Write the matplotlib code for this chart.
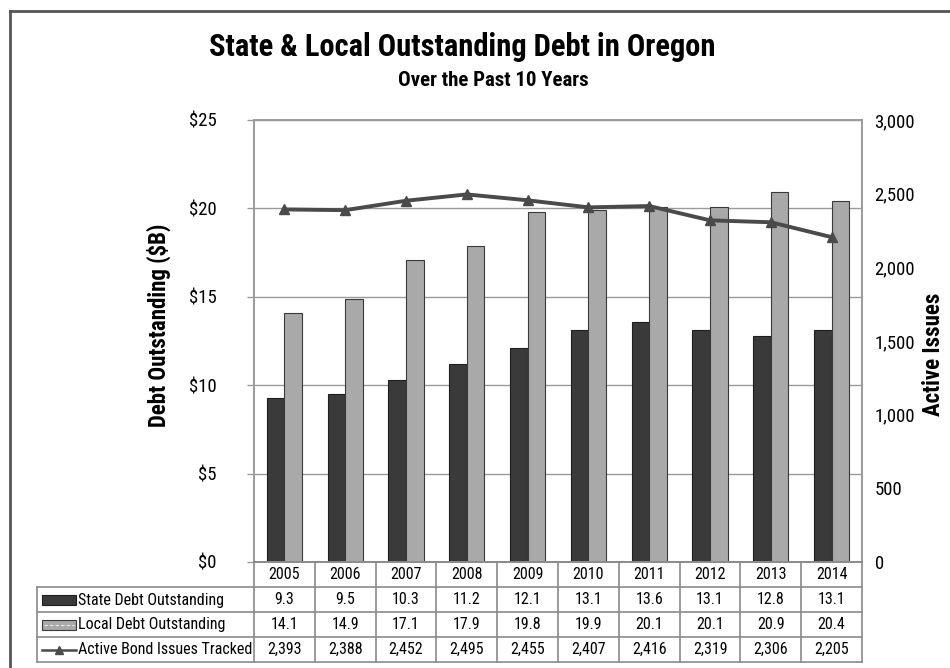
import matplotlib
matplotlib.use("Agg")
import matplotlib.pyplot as plt
import matplotlib.transforms as mtransforms
from matplotlib.lines import Line2D
from matplotlib.patches import Rectangle
import numpy as np

plt.rcParams['font.family'] = ['Roboto Condensed', 'Liberation Sans Narrow', 'Liberation Sans', 'DejaVu Sans']
plt.rcParams['font.stretch'] = 'condensed'

years = ["2005", "2006", "2007", "2008", "2009", "2010", "2011", "2012", "2013", "2014"]
state_debt = [9.3, 9.5, 10.3, 11.2, 12.1, 13.1, 13.6, 13.1, 12.8, 13.1]
local_debt = [14.1, 14.9, 17.1, 17.9, 19.8, 19.9, 20.1, 20.1, 20.9, 20.4]
active_issues = [2393, 2388, 2452, 2495, 2455, 2407, 2416, 2319, 2306, 2205]
active_labels = ["2,393", "2,388", "2,452", "2,495", "2,455", "2,407", "2,416", "2,319", "2,306", "2,205"]
series_names = ["State Debt Outstanding", "Local Debt Outstanding", "Active Bond Issues Tracked"]
left_ticks = [0, 5, 10, 15, 20, 25]
right_ticks = [0, 500, 1000, 1500, 2000, 2500, 3000]

W, H = 950, 668
fig = plt.figure(figsize=(W / 100, H / 100), dpi=100)


def fx(x):
    return x / W


def fy(y):
    return 1 - y / H


# plot area in pixel terms
L, R, T, B = 254, 862, 120, 562
ax = fig.add_axes([fx(L), fy(B), fx(R) - fx(L), fy(T) - fy(B)])
ax2 = ax.twinx()

x = np.arange(len(years))
bw = 0.29
state_col = "#3a3a3a"
local_col = "#a9a9a9"
line_col = "#4a4a4a"
grid_col = "#9a9a9a"

ax.bar(x - bw / 2, state_debt, bw, color=state_col, edgecolor="#1e1e1e", linewidth=0.8, zorder=3)
ax.bar(x + bw / 2, local_debt, bw, color=local_col, edgecolor="#3a3a3a", linewidth=0.8, zorder=3)
ax.set_xlim(-0.5, len(years) - 0.5)
ax.set_ylim(0, 25)
ax.set_yticks(left_ticks)
ax.set_yticklabels([f"${v}" for v in left_ticks], fontsize=13.5)
ax.yaxis.grid(True, color=grid_col, linewidth=1.0, zorder=0)
ax.set_axisbelow(True)
ax.set_xticks([])
ax.tick_params(axis="y", length=5, width=1, color=grid_col, pad=22)

ax2.plot(x, active_issues, color=line_col, linewidth=2.8, marker="^", markersize=7,
         markerfacecolor=line_col, markeredgecolor=line_col, zorder=5)
ax2.set_ylim(0, 3000)
ax2.set_yticks(right_ticks)
ax2.set_yticklabels([f"{v:,}" for v in right_ticks], fontsize=13.5)
ax2.tick_params(axis="y", length=0, pad=9)
ax2.set_zorder(ax.get_zorder() + 1)
ax2.patch.set_visible(False)

for a in (ax, ax2):
    for s in a.spines.values():
        s.set_color(grid_col)
        s.set_linewidth(1.2)

ax.set_ylabel("Debt Outstanding ($B)", fontsize=16.5, fontweight="bold")
ax.yaxis.set_label_coords(-0.137, 0.535)
ax2.set_ylabel("Active Issues", fontsize=16.5, fontweight="bold")
ax2.yaxis.set_label_coords(1.098, 0.47)

# titles
fig.text(fx(462), fy(47), "State & Local Outstanding Debt in Oregon", ha="center", va="center",
         fontsize=22, fontweight="bold")
fig.text(fx(493), fy(81), "Over the Past 10 Years", ha="center", va="center",
         fontsize=15, fontweight="bold")

# data table below the plot
tr = mtransforms.blended_transform_factory(ax.transData, fig.transFigure)
row_edges = [562, 587, 612, 637, 662]
tab_left = 37
line_kw = dict(color="#8a8a8a", linewidth=1.2, clip_on=False)

# horizontal lines
for i, yy in enumerate(row_edges):
    x0 = L if i == 0 else tab_left
    fig.add_artist(Line2D([fx(x0), fx(R)], [fy(yy), fy(yy)], **line_kw))
# vertical lines
for k in range(len(years) + 1):
    xx = k - 0.5
    fig.add_artist(Line2D([xx, xx], [fy(row_edges[0]), fy(row_edges[-1])], transform=tr, **line_kw))
fig.add_artist(Line2D([fx(tab_left), fx(tab_left)], [fy(row_edges[1]), fy(row_edges[-1])], **line_kw))

rows = [
    [f"{v:.1f}" for v in state_debt],
    [f"{v:.1f}" for v in local_debt],
    active_labels,
]
fs_tab = 11.5
for i, yr in enumerate(years):
    yc = (row_edges[0] + row_edges[1]) / 2
    fig.text(i, fy(yc), yr, transform=tr, ha="center", va="center", fontsize=fs_tab)
    for r, vals in enumerate(rows):
        yc = (row_edges[r + 1] + row_edges[r + 2]) / 2
        fig.text(i, fy(yc), vals[i], transform=tr, ha="center", va="center", fontsize=fs_tab)

for r, name in enumerate(series_names):
    yc = (row_edges[r + 1] + row_edges[r + 2]) / 2
    fig.text(fx(78), fy(yc + 0.5), name, ha="left", va="center", fontsize=fs_tab)
    if r == 0:
        fig.add_artist(Rectangle((fx(42), fy(yc + 5)), fx(34), fy(0) - fy(10),
                                 facecolor=state_col, edgecolor="#1e1e1e", linewidth=0.8))
    elif r == 1:
        fig.add_artist(Rectangle((fx(42), fy(yc + 5)), fx(34), fy(0) - fy(10),
                                 facecolor=local_col, edgecolor="#3a3a3a", linewidth=0.8))
        fig.add_artist(Line2D([fx(44), fx(74)], [fy(yc), fy(yc)], color="#e8e8e8",
                              linewidth=0.8, linestyle=(0, (3, 2))))
    else:
        fig.add_artist(Line2D([fx(42), fx(76)], [fy(yc), fy(yc)], color=line_col, linewidth=1.8))
        fig.add_artist(Line2D([fx(59)], [fy(yc)], color=line_col, marker="^", markersize=6,
                              linestyle="none"))

# outer chart frame
fig.add_artist(Line2D([fx(10), fx(10)], [fy(11), 0], color="#555555", linewidth=2))
fig.add_artist(Line2D([fx(10), 1], [fy(11), fy(11)], color="#555555", linewidth=2))

fig.savefig("out.png", dpi=100)
